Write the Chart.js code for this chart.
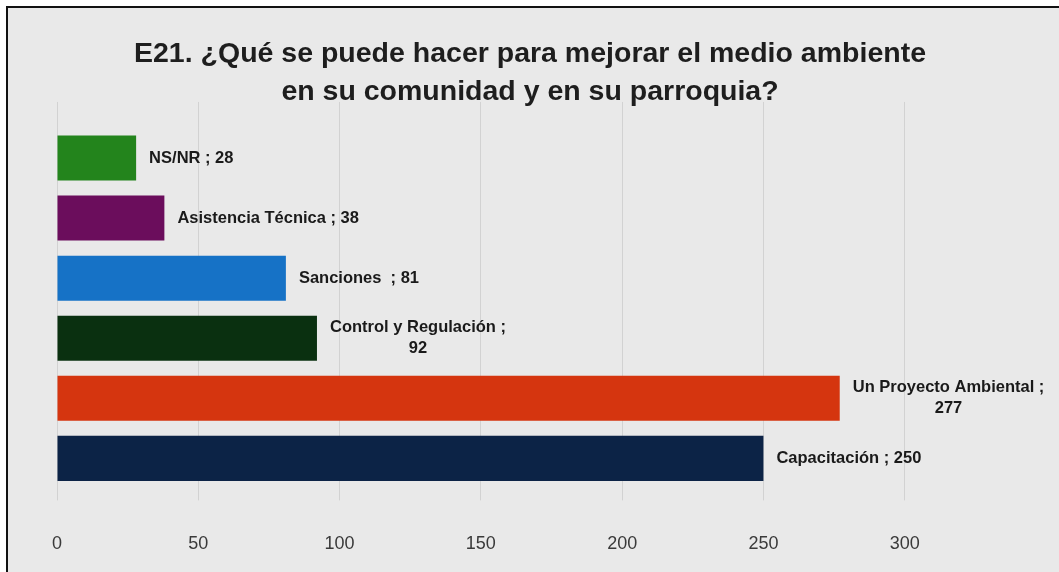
<!DOCTYPE html>
<html>
<head>
<meta charset="utf-8">
<script src="https://cdn.jsdelivr.net/npm/chart.js@4/dist/chart.umd.min.js"></script>
<style>
  html, body { margin: 0; padding: 0; background: #fff; width: 1059px; height: 572px; overflow: hidden; }
  #wrap {
    position: absolute; left: 6px; top: 6px; width: 1053px; height: 566px;
    border-top: 2px solid #111; border-left: 2px solid #111;
    background: #e9e9e9;
  }
  #chart { position: absolute; left: 0; top: 0; }
</style>
</head>
<body>
<div id="wrap"><canvas id="chart" width="1051" height="564"></canvas></div>
<script>
const categories = ['NS/NR', 'Asistencia Técnica', 'Sanciones', 'Control y Regulación', 'Un Proyecto Ambiental', 'Capacitación'];
const values = [28, 38, 81, 92, 277, 250];
const barColors = ['#23841c', '#6b0d5c', '#1672c6', '#0a3010', '#d5350f', '#0c2346'];
// labels as shown next to the bars (some wrap on two lines)
const barLabels = [
    ['NS/NR ; 28'],
    ['Asistencia Técnica ; 38'],
    ['Sanciones  ; 81'],
    ['Control y Regulación ;', '92'],
    ['Un Proyecto Ambiental ;', '277'],
    ['Capacitación ; 250']
];
const titleLines = ['E21. ¿Qué se puede hacer para mejorar el medio ambiente', 'en su comunidad y en su parroquia?'];
const xTicks = [0, 50, 100, 150, 200, 250, 300];

const FONT = "'Liberation Sans', Arial, sans-serif";
const GRID = '#d2d2d2';

// the vertical grid lines reach a bit above the first bar
const gridTopPlugin = {
    id: 'gridTop',
    beforeDatasetsDraw(chart) {
        const ctx = chart.ctx;
        const x = chart.scales.x;
        ctx.save();
        ctx.strokeStyle = GRID;
        ctx.lineWidth = 1;
        x.ticks.forEach(t => {
            const px = Math.round(x.getPixelForValue(t.value) - 0.5) + 0.5;
            ctx.beginPath();
            ctx.moveTo(px, chart.chartArea.top - 26);
            ctx.lineTo(px, chart.chartArea.top);
            ctx.stroke();
        });
        ctx.restore();
    }
};

const barLabelPlugin = {
    id: 'barLabels',
    afterDatasetsDraw(chart) {
        const ctx = chart.ctx;
        const meta = chart.getDatasetMeta(0);
        ctx.save();
        ctx.font = 'bold 16.5px ' + FONT;
        ctx.fillStyle = '#1a1a1a';
        ctx.textBaseline = 'middle';
        ctx.textAlign = 'center';
        meta.data.forEach((bar, i) => {
            const lines = barLabels[i];
            const w = Math.max(...lines.map(l => ctx.measureText(l).width));
            const cx = bar.x + 13 + w / 2;
            const lh = 21;
            const y0 = bar.y - (lines.length - 1) * lh / 2;
            lines.forEach((l, k) => ctx.fillText(l, cx, y0 + k * lh));
        });
        ctx.restore();
    }
};

new Chart(document.getElementById('chart'), {
    type: 'bar',
    data: {
        labels: categories,
        datasets: [{
            data: values,
            backgroundColor: barColors,
            borderWidth: 0,
            categoryPercentage: 1,
            barPercentage: 0.75
        }]
    },
    options: {
        indexAxis: 'y',
        responsive: false,
        animation: false,
        layout: { padding: { left: 6, right: 13, top: 0, bottom: -16 } },
        plugins: {
            legend: { display: false },
            tooltip: { enabled: false },
            title: {
                display: true,
                text: titleLines,
                color: '#1e1e1e',
                font: { family: FONT, size: 28.5, weight: 'bold', lineHeight: 1.333 },
                padding: { top: 27, bottom: 17 }
            }
        },
        scales: {
            x: {
                min: 0,
                max: 350,
                afterBuildTicks(scale) {
                    scale.ticks = xTicks.map(v => ({ value: v }));
                },
                grid: { color: GRID, lineWidth: 1, tickLength: 12, drawTicks: true },
                border: { display: false },
                ticks: {
                    color: '#3a3a3a',
                    padding: 33,
                    font: { family: FONT, size: 18 }
                }
            },
            y: {
                grid: { display: false },
                border: { display: false },
                ticks: { display: false },
                afterFit(scale) { scale.width = 43; }
            }
        }
    },
    plugins: [gridTopPlugin, barLabelPlugin]
});
</script>
</body>
</html>
